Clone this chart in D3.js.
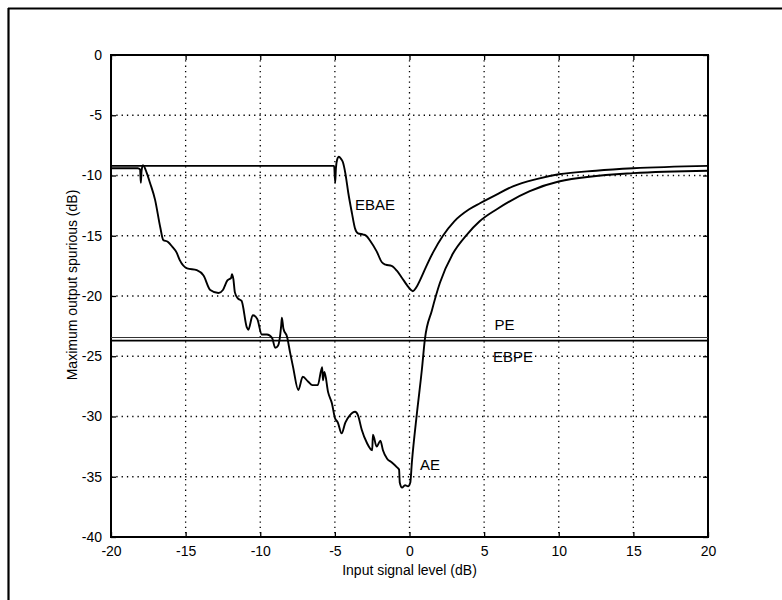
<!DOCTYPE html>
<html>
<head>
<meta charset="utf-8">
<style>
  body { margin: 0; background: #fff; font-family: "Liberation Sans", Arial, sans-serif; }
  .grid line { stroke: #000; stroke-width: 1.3; stroke-dasharray: 1.3,4; }
  .axis path { display: none; }
  .axis line { stroke: #000; stroke-width: 1.3; }
  .axis text { font-size: 14px; fill: #000; font-family: "Liberation Sans", Arial, sans-serif; }
  .curve { fill: none; stroke: #000; stroke-width: 1.9; stroke-linejoin: round; }
  .lbl { font-size: 15px; fill: #000; }
</style>
</head>
<body>
<script src="https://d3js.org/d3.v7.min.js"></script>
<script>
// axis ticks
var xTicks = [-20, -15, -10, -5, 0, 5, 10, 15, 20];
var yTicks = [0, -5, -10, -15, -20, -25, -30, -35, -40];

// AE curve (input level dB, spurious dB)
var aeX = [-20, -18.2, -18.05, -18.0, -17.95, -17.86, -17.6, -17.39, -17.05, -16.7, -16.5, -16.2, -15.9, -15.6, -15.4,
  -14.9, -14.25, -13.8, -13.35, -12.8, -12.5, -12.2, -11.95, -11.9, -11.8, -11.7, -11.5, -11.25, -10.9, -10.8,
  -10.5, -10.2, -9.9, -9.55, -9.2, -9.0, -8.8, -8.6, -8.55, -8.45, -8.2, -8.0, -7.8, -7.45, -7.15, -6.8, -6.5,
  -6.15, -5.85, -5.8, -5.7, -5.45, -5.2, -5.0, -4.8, -4.55, -4.3, -4.0, -3.65, -3.45, -3.2, -2.85, -2.5, -2.45,
  -2.2, -1.95, -1.78, -1.5, -1.2, -0.85, -0.7, -0.65, -0.5, -0.3, -0.1, 0.05, 0.16, 0.5, 0.83, 1.03, 1.5, 2.04,
  2.9, 3.85, 4.7, 5.85, 8.06, 10, 15, 20];
var aeY = [-9.4, -9.4, -9.5, -10.6, -9.6, -9.15, -9.8, -10.6, -12, -14.3, -15.35, -15.5, -15.9, -16.4, -17,
  -17.7, -17.85, -18.3, -19.5, -19.75, -19.5, -18.7, -18.5, -18.2, -18.6, -19.7, -20.2, -20.4, -22.6, -22.8,
  -21.6, -21.9, -23.2, -23.2, -23.5, -24.3, -24.1, -22.5, -21.8, -22.7, -23.4, -24.7, -25.9, -27.8, -26.7, -27.1, -27.4,
  -27.4, -25.9, -27, -26.3, -28.0, -28.9, -30.1, -30.5, -31.4, -30.5, -29.9, -29.6, -29.9, -31.1, -32.2, -32.8, -31.5,
  -32.5, -32.0, -32.8, -33.5, -33.8, -34.2, -34.4, -35.5, -35.9, -35.7, -35.8, -35.5, -33.8, -29.7, -26.1, -23.6, -21.2, -18.9,
  -16.5, -14.9, -13.8, -12.8, -11.3, -10.5, -9.8, -9.6];

// EBAE curve
var ebaeX = [-20, -5.05, -4.98, -4.93, -4.85, -4.73, -4.6, -4.46, -4.3, -4.1, -3.86, -3.66, -3.45, -3.1, -2.9,
  -2.65, -2.2, -1.85, -1.6, -1.2, -0.85, -0.5, -0.17, 0.1, 0.23, 0.45, 0.7, 1.1, 1.57, 2.24, 3.0, 4.0, 4.72,
  5.8, 6.93, 8.5, 10, 12.5, 15, 20];
var ebaeY = [-9.2, -9.2, -10.6, -9.4, -8.7, -8.45, -8.6, -8.9, -9.8, -11.45, -13.1, -14.35, -14.8, -14.9, -15.0,
  -15.4, -16.3, -17.2, -17.4, -17.5, -17.9, -18.5, -19.1, -19.5, -19.6, -19.3, -18.7, -17.6, -16.4, -15.0, -13.8, -12.8, -12.3,
  -11.6, -10.9, -10.3, -9.9, -9.6, -9.4, -9.2];

// flat levels
var peLevel = -23.45;
var ebpeLevel = -23.7;

// curve labels
var labelText = ["EBAE", "PE", "EBPE", "AE"];
var labelX = [-3.65, 5.7, 5.6, 0.7];
var labelY = [-12.45, -22.4, -25.06, -34.0];

var W = 782, H = 600;
var margin = {top: 55, right: 74, bottom: 63, left: 111};
var width = W - margin.left - margin.right,
    height = H - margin.top - margin.bottom;

var svg = d3.select("body").append("svg")
    .attr("width", W)
    .attr("height", H);

// scanned page frame (left and top edges only)
svg.append("line").attr("x1", 8.5).attr("x2", 8.5).attr("y1", 8).attr("y2", H)
    .attr("stroke", "#000").attr("stroke-width", 2.2);
svg.append("line").attr("x1", 8).attr("x2", W).attr("y1", 8.5).attr("y2", 8.5)
    .attr("stroke", "#000").attr("stroke-width", 2.2);

var g = svg.append("g")
    .attr("transform", "translate(" + margin.left + "," + margin.top + ")");

var x = d3.scaleLinear().domain([-20, 20]).range([0, width]);
var y = d3.scaleLinear().domain([-40, 0]).range([height, 0]);

// dotted grid
var grid = g.append("g").attr("class", "grid");
grid.selectAll(".vg")
    .data(xTicks.slice(1, -1))
  .enter().append("line")
    .attr("x1", function(d) { return x(d); })
    .attr("x2", function(d) { return x(d); })
    .attr("y1", 0).attr("y2", height);
grid.selectAll(".hg")
    .data(yTicks.slice(1, -1))
  .enter().append("line")
    .attr("y1", function(d) { return y(d); })
    .attr("y2", function(d) { return y(d); })
    .attr("x1", 0).attr("x2", width);

// axes with inward ticks on all sides
g.append("g").attr("class", "axis")
    .attr("transform", "translate(0," + height + ")")
    .call(d3.axisBottom(x).tickValues(xTicks).tickSize(-5).tickPadding(9).tickFormat(d3.format("d")));
g.append("g").attr("class", "axis")
    .call(d3.axisTop(x).tickValues(xTicks).tickSize(-5).tickFormat(""));
g.append("g").attr("class", "axis")
    .call(d3.axisLeft(y).tickValues(yTicks).tickSize(-5).tickPadding(9).tickFormat(d3.format("d")));
g.append("g").attr("class", "axis")
    .attr("transform", "translate(" + width + ",0)")
    .call(d3.axisRight(y).tickValues(yTicks).tickSize(-5).tickFormat(""));

// MATLAB uses a hyphen-like minus
g.selectAll(".axis text").text(function() { return this.textContent.replace("\u2212", "-"); });

// box
g.append("rect")
    .attr("width", width).attr("height", height)
    .attr("fill", "none").attr("stroke", "#000").attr("stroke-width", 2);

var line = d3.line()
    .curve(d3.curveMonotoneX)
    .x(function(d) { return x(d[0]); })
    .y(function(d) { return y(d[1]); });

// PE and EBPE
g.append("path").attr("class", "curve")
    .attr("d", line([[-20, peLevel], [20, peLevel]]))
    .style("stroke-width", 1.1).style("stroke", "#333");
g.append("path").attr("class", "curve")
    .attr("d", line([[-20, ebpeLevel], [20, ebpeLevel]]))
    .style("stroke-width", 1.9);

g.append("path").attr("class", "curve")
    .attr("d", line(d3.zip(ebaeX, ebaeY)));
g.append("path").attr("class", "curve")
    .attr("d", line(d3.zip(aeX, aeY)));

// curve labels
g.selectAll(".lbl")
    .data(labelText)
  .enter().append("text")
    .attr("class", "lbl")
    .attr("x", function(d, i) { return x(labelX[i]); })
    .attr("y", function(d, i) { return y(labelY[i]); })
    .attr("dy", "0.36em")
    .text(function(d) { return d; });

// axis titles
g.append("text")
    .attr("x", width / 2)
    .attr("y", height + 38)
    .attr("text-anchor", "middle")
    .style("font-size", "14px")
    .text("Input signal level (dB)");
g.append("text")
    .attr("transform", "translate(" + (72 - margin.left) + "," + (285 - margin.top) + ") rotate(-90)")
    .attr("text-anchor", "middle")
    .attr("dy", "0.35em")
    .style("font-size", "14px")
    .text("Maximum output spurious (dB)");
</script>
</body>
</html>
